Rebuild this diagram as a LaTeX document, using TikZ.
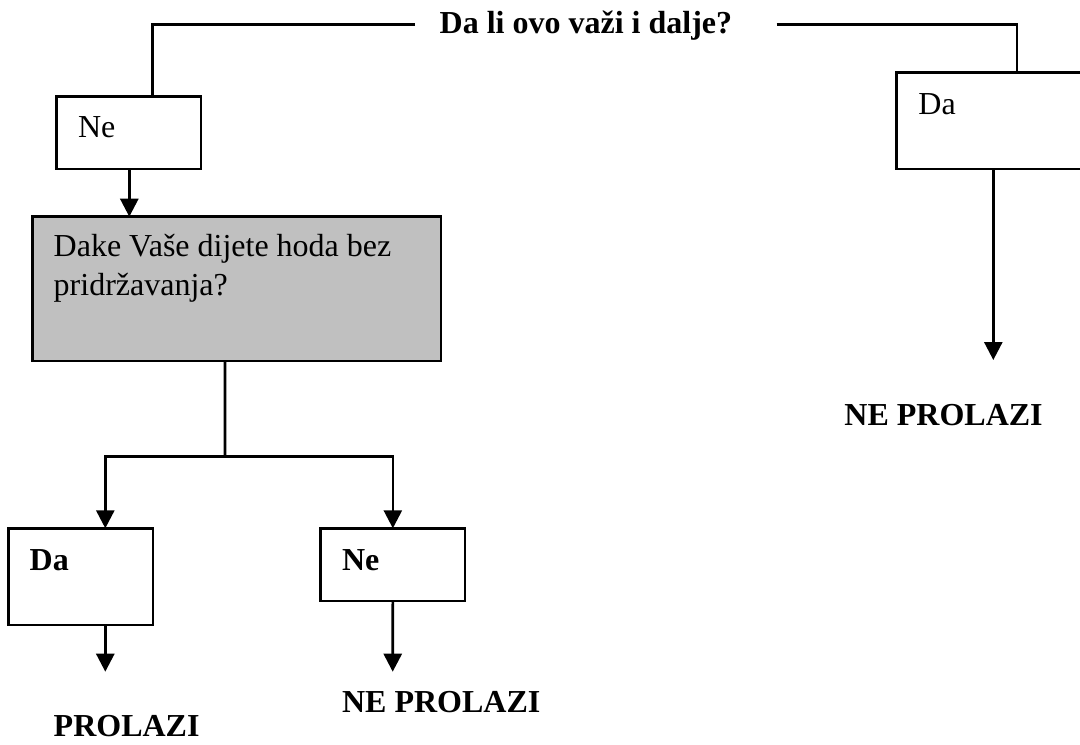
\documentclass[tikz,border=0pt]{standalone}
\usepackage{fontspec}
\setmainfont{Liberation Serif}
\usetikzlibrary{arrows.meta,calc}
\definecolor{boxgray}{RGB}{192,192,192}
\begin{document}
\begin{tikzpicture}[x=0.5pt,y=-0.5pt,
  line/.style={line width=1.35pt},
  arr/.style={line width=1.35pt,-{Triangle[width=9pt,length=9pt]}},
  box/.style={draw,line width=1.35pt,inner sep=0pt,outer sep=0pt,anchor=north west},
  txt/.style={inner sep=0pt,anchor=base west,font=\fontsize{16}{19.2}\selectfont},
  btxt/.style={txt,font=\fontsize{16}{19.2}\selectfont\bfseries}]
\useasboundingbox (0,0) rectangle (1080,744);
\clip (0,0) rectangle (1080,744);
% question
\node[btxt] (q) at (439.3,33) {Da li ovo važi i dalje?};
% boxes
\node[box,minimum width=72.15pt,minimum height=36.15pt] (ne1) at (56.7,96.7) {};
\node[box,minimum width=100pt,minimum height=48.35pt] (da1) at (896.7,72.3) {};
\node[box,fill=boxgray,minimum width=204.15pt,minimum height=72.15pt] (g) at (32.7,216.7) {};
\node[box,minimum width=72.35pt,minimum height=48.35pt] (da2) at (8.3,528.3) {};
\node[box,minimum width=72.15pt,minimum height=36.35pt] (ne2) at (320.7,528.3) {};
% box texts
\node[txt] (ne1t) at (77.7,137.7) {Ne};
\node[txt] (da1t) at (918,114) {Da};
\node[txt] (g1) at (53.3,256.7) {Dake Vaše dijete hoda bez};
\node[txt] (g2) at (53.3,295) {pridržavanja?};
\node[btxt] (da2t) at (29.3,570) {Da};
\node[btxt] (ne2t) at (341.7,570) {Ne};
% outcomes
\node[btxt] (r1) at (844,425) {NE PROLAZI};
\node[btxt] (r2) at (53.3,736) {PROLAZI};
\node[btxt] (r3) at (341.7,712.7) {NE PROLAZI};
% connectors
\coordinate (tl) at (415,24.5);
\coordinate (lk) at (152.7,24.5);
\coordinate (tr) at (776.7,24.5);
\coordinate (rk) at (1017,24.5);
\draw[line] (tl) -- (lk) -- (lk |- ne1.north);
\draw[line] (tr) -- (rk) -- (rk |- da1.north);
\draw[arr] ($(ne1.south west)+(72.6,0)$) coordinate (ne1b) -- (ne1b |- g.north);
\coordinate (gb) at ($(g.south west)+(192.3,0)$);
\coordinate (split) at (225,456.7);
\draw[line] (gb) -- (split);
\coordinate (da2top) at ($(da2.north west)+(97,0)$);
\draw[arr] (split) -| (da2top);
\draw[arr] (split) -| (ne2.north);
\coordinate (da1b) at ($(da1.south west)+(96.6,0)$);
\coordinate (e1) at (993.3,360);
\draw[arr] (da1b) -- (e1);
\coordinate (da2b) at ($(da2.south west)+(97,0)$);
\coordinate (e2) at (105.3,671.7);
\draw[arr] (da2b) -- (e2);
\coordinate (e3) at (392.7,671.7);
\draw[arr] (ne2.south) -- (e3);
\end{tikzpicture}
\end{document}
